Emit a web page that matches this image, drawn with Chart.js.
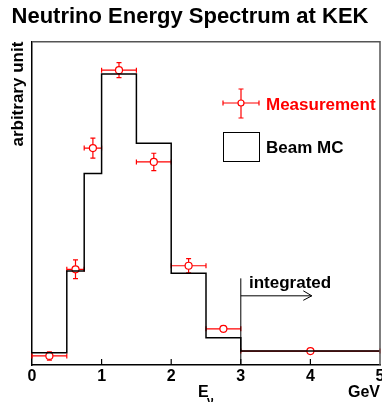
<!DOCTYPE html>
<html>
<head>
<meta charset="utf-8">
<title>Neutrino Energy Spectrum at KEK</title>
<script src="https://cdn.jsdelivr.net/npm/chart.js@4.4.0/dist/chart.umd.min.js"></script>
<style>
    body { margin: 0; background: #fff; }
    canvas { display: block; }
</style>
</head>
<body>
<canvas id="spectrumChart" width="382" height="402"></canvas>
<script>
// Beam MC histogram (bin edges in GeV, contents in arbitrary units)
const binEdges = [0, 0.5, 0.75, 1, 1.5, 2, 2.5, 3, 5];
const mcValues = [3.8, 29.1, 59.2, 90.0, 68.6, 28.4, 8.4, 4.3];

// Measurement points with errors
const measX = [0.25, 0.625, 0.875, 1.25, 1.75, 2.25, 2.75, 4];
const measY = [2.8, 29.6, 67.1, 91.2, 62.8, 30.7, 11.2, 4.3];
const measYErr = [1.3, 2.9, 3.1, 2.3, 2.7, 2.2, 0.9, 0];

// Axis ticks
const xTicks = [0, 1, 2, 3, 4, 5];

const RED = '#ff0000';
const BOLD = 'Liberation Sans, Arial, Helvetica, sans-serif';

// histogram as stepped line: one point per left edge, plus the last right edge
const mcPoints = binEdges.map((e, i) => ({ x: e, y: mcValues[Math.min(i, mcValues.length - 1)] }));
const measPoints = measX.map((x, i) => ({ x: x, y: measY[i] }));

// Error bars for the measurement, drawn just before the markers
const errorBars = {
    id: 'errorBars',
    beforeDatasetDraw(chart, args) {
        if (args.index !== 1) return;
        const { ctx, scales: { x, y } } = chart;
        const cap = 2.5;
        ctx.save();
        ctx.strokeStyle = RED;
        ctx.lineWidth = 1.2;
        measX.forEach((mx, i) => {
            const py = y.getPixelForValue(measY[i]);
            const px = x.getPixelForValue(mx);
            const x0 = x.getPixelForValue(binEdges[i]);
            const x1 = x.getPixelForValue(binEdges[i + 1]);
            ctx.beginPath();
            ctx.moveTo(x0, py); ctx.lineTo(x1, py);
            ctx.moveTo(x0, py - cap); ctx.lineTo(x0, py + cap);
            ctx.moveTo(x1, py - cap); ctx.lineTo(x1, py + cap);
            if (measYErr[i] > 0) {
                const y0 = y.getPixelForValue(measY[i] - measYErr[i]);
                const y1 = y.getPixelForValue(measY[i] + measYErr[i]);
                ctx.moveTo(px, y0); ctx.lineTo(px, y1);
                ctx.moveTo(px - cap, y0); ctx.lineTo(px + cap, y0);
                ctx.moveTo(px - cap, y1); ctx.lineTo(px + cap, y1);
            }
            ctx.stroke();
        });
        ctx.restore();
    }
};

// Frame, inward ticks, legend and annotations
const decorations = {
    id: 'decorations',
    afterDraw(chart) {
        const { ctx, chartArea: a, scales: { x, y } } = chart;
        ctx.save();

        // top and right frame
        ctx.strokeStyle = '#555';
        ctx.lineWidth = 1.5;
        ctx.beginPath();
        ctx.moveTo(a.left, a.top); ctx.lineTo(a.right, a.top); ctx.lineTo(a.right, a.bottom);
        ctx.stroke();

        // inward ticks on x axis
        ctx.strokeStyle = '#000';
        ctx.lineWidth = 1.2;
        ctx.beginPath();
        xTicks.slice(1, -1).forEach(t => {
            const px = x.getPixelForValue(t);
            ctx.moveTo(px, a.bottom); ctx.lineTo(px, a.bottom - 6);
        });
        ctx.stroke();

        // "integrated" marker above 3 GeV
        const x3 = x.getPixelForValue(3);
        const yArrow = y.getPixelForValue(21.4);
        const xArrow = x.getPixelForValue(4.02);
        ctx.lineWidth = 1;
        ctx.beginPath();
        ctx.moveTo(x3, y.getPixelForValue(26.8)); ctx.lineTo(x3, a.bottom);
        ctx.moveTo(x3, yArrow); ctx.lineTo(xArrow, yArrow);
        ctx.moveTo(xArrow - 8.5, yArrow - 5); ctx.lineTo(xArrow, yArrow); ctx.lineTo(xArrow - 8.5, yArrow + 4.5);
        ctx.stroke();
        ctx.fillStyle = '#000';
        ctx.font = 'bold 17px ' + BOLD;
        ctx.textBaseline = 'alphabetic';
        ctx.fillText('integrated', 249, 288);

        // legend: measurement
        const lx = 241, ly = 103;
        ctx.strokeStyle = RED;
        ctx.lineWidth = 1.2;
        ctx.beginPath();
        ctx.moveTo(223, ly); ctx.lineTo(259, ly);
        ctx.moveTo(223, ly - 2.5); ctx.lineTo(223, ly + 2.5);
        ctx.moveTo(259, ly - 2.5); ctx.lineTo(259, ly + 2.5);
        ctx.moveTo(lx, 89); ctx.lineTo(lx, 118);
        ctx.moveTo(lx - 2.5, 89); ctx.lineTo(lx + 2.5, 89);
        ctx.moveTo(lx - 2.5, 118); ctx.lineTo(lx + 2.5, 118);
        ctx.stroke();
        ctx.fillStyle = '#fff';
        ctx.beginPath();
        ctx.arc(lx, ly, 3, 0, Math.PI * 2);
        ctx.fill(); ctx.stroke();
        ctx.fillStyle = RED;
        ctx.fillText('Measurement', 266, 110);

        // legend: beam MC
        ctx.strokeStyle = '#000';
        ctx.lineWidth = 1;
        ctx.strokeRect(223.5, 132.5, 36, 29);
        ctx.fillStyle = '#000';
        ctx.fillText('Beam MC', 266, 153);

        // E_nu axis label
        ctx.font = 'bold 16px ' + BOLD;
        ctx.fillText('E', 198, 397);
        ctx.font = 'bold 12px ' + BOLD;
        ctx.fillText('\u03bd', 207, 405);

        ctx.restore();
    }
};

document.addEventListener('DOMContentLoaded', function() {
    const ctx = document.getElementById('spectrumChart').getContext('2d');
    new Chart(ctx, {
        data: {
            datasets: [{
                type: 'line',
                label: 'Beam MC',
                data: mcPoints,
                stepped: 'before',
                borderColor: '#000',
                borderWidth: 1.5,
                pointRadius: 0,
                fill: false
            }, {
                type: 'scatter',
                label: 'Measurement',
                data: measPoints,
                pointStyle: 'circle',
                pointRadius: 3.5,
                borderColor: RED,
                borderWidth: 1.2,
                backgroundColor: '#fff'
            }]
        },
        options: {
            responsive: false,
            animation: false,
            layout: { autoPadding: false, padding: { left: 0, right: 2, top: 0, bottom: 0 } },
            plugins: {
                legend: { display: false },
                tooltip: { enabled: false },
                title: {
                    display: true,
                    text: 'Neutrino Energy Spectrum at KEK',
                    color: '#000',
                    font: { family: BOLD, size: 22, weight: 'bold' },
                    padding: { top: 4, bottom: 11.3 }
                }
            },
            scales: {
                x: {
                    type: 'linear',
                    min: 0,
                    max: 5,
                    afterFit: s => { s.height = 37; s.paddingLeft = 0; s.paddingRight = 0; },
                    grid: { display: false, drawTicks: false },
                    border: { display: true, color: '#000', width: 1.5 },
                    ticks: {
                        stepSize: 1,
                        autoSkip: false,
                        maxRotation: 0,
                        padding: 2,
                        color: '#000',
                        font: { family: BOLD, size: 16, weight: 'bold' }
                    },
                    afterBuildTicks: s => { s.ticks = xTicks.map(v => ({ value: v })); },
                    title: {
                        display: true,
                        text: 'GeV',
                        align: 'end',
                        color: '#000',
                        padding: { top: 0, bottom: 0 },
                        font: { family: BOLD, size: 16, weight: 'bold' }
                    }
                },
                y: {
                    type: 'linear',
                    min: 0,
                    max: 100,
                    afterFit: s => { s.width = 32; },
                    grid: { display: false, drawTicks: false },
                    border: { display: true, color: '#000', width: 1.5 },
                    ticks: { display: false },
                    title: {
                        display: true,
                        text: 'arbitrary unit',
                        align: 'end',
                        color: '#000',
                        padding: { top: 8, bottom: 0 },
                        font: { family: BOLD, size: 17, weight: 'bold' }
                    }
                }
            }
        },
        plugins: [errorBars, decorations]
    });
});
</script>
</body>
</html>
